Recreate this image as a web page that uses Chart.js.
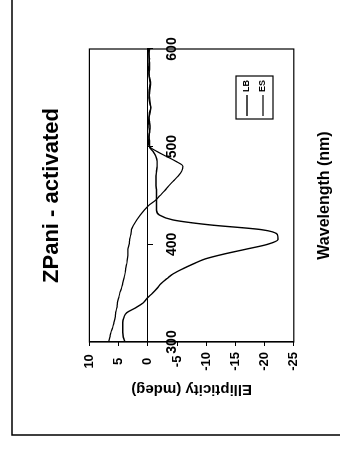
<!DOCTYPE html>
<html>
<head>
<meta charset="utf-8">
<script src="https://cdn.jsdelivr.net/npm/chart.js@4.4.1/dist/chart.umd.min.js"></script>
<style>
html, body { margin: 0; padding: 0; background: #fff; overflow: hidden; }
/* the scanned figure is turned a quarter turn, so draw upright and rotate */
#wrap { position: absolute; left: 0; top: 0; width: 449px; height: 340px;
        transform-origin: 0 0; transform: translate(0px, 449px) rotate(-90deg); }
</style>
</head>
<body>
<div id="wrap"><canvas id="myChart" width="449" height="340"></canvas></div>
<script>
// wavelength (nm)
const wavelengths = [300, 305, 310, 315, 320, 325, 330, 335, 340, 345,
    350, 355, 360, 365, 370, 375, 380, 385, 390, 395,
    400, 405, 410, 415, 420, 425, 430, 435, 440, 445,
    450, 455, 460, 465, 470, 475, 480, 485, 490, 495,
    500, 505, 510, 515, 520, 525, 530, 535, 540, 545,
    550, 555, 560, 565, 570, 575, 580, 585, 590, 595, 600];

// ellipticity (mdeg)
const lbValues = [3.9, 4.2, 4.3, 4.3, 4.3, 4.1, 3.6, 2.1, 0.8, 0.1,
    -0.8, -1.6, -2.3, -3.3, -4.4, -6.0, -7.8, -9.8, -13.0, -16.8,
    -20.5, -22.3, -22.2, -19.5, -10.5, -4.3, -2.0, -1.5, -1.5, -1.5,
    -1.5, -1.5, -1.4, -1.4, -1.4, -1.5, -1.6, -1.6, -1.4, -0.9,
    -0.3, -0.3, -0.2, -0.3, -0.4, -0.3, -0.2, -0.3, -0.5, -0.4,
    -0.3, -0.2, -0.3, -0.4, -0.3, -0.2, -0.3, -0.3, -0.2, -0.2, -0.3];

const esValues = [6.7, 6.5, 6.3, 6.0, 5.8, 5.6, 5.5, 5.3, 5.2, 5.0,
    4.8, 4.5, 4.3, 4.1, 3.9, 3.8, 3.6, 3.5, 3.4, 3.4,
    3.2, 3.1, 2.9, 2.8, 2.4, 1.9, 1.3, 0.6, -0.2, -1.3,
    -2.1, -2.9, -3.6, -4.4, -5.2, -5.8, -6.0, -4.8, -3.2, -1.6,
    -0.3, -0.1, -0.2, -0.3, -0.2, -0.1, -0.2, -0.4, -0.5, -0.3,
    -0.2, -0.3, -0.4, -0.5, -0.3, -0.2, -0.1, -0.2, -0.3, -0.2, -0.1];

const seriesNames = ['LB', 'ES'];
const yTicks = [10, 5, 0, -5, -10, -15, -20, -25];

Chart.defaults.font.family = 'Arial, "Liberation Sans", sans-serif';
Chart.defaults.color = '#000';

function points(vals) {
    return wavelengths.map((w, i) => ({ x: w, y: vals[i] }));
}

// outer frame of the scanned page
const framePlugin = {
    id: 'frame',
    beforeDraw(chart) {
        const ctx = chart.ctx;
        ctx.save();
        ctx.strokeStyle = '#000';
        ctx.lineWidth = 1.5;
        ctx.beginPath();
        ctx.moveTo(14, 340);
        ctx.lineTo(14, 12);
        ctx.lineTo(449, 12);
        ctx.stroke();
        ctx.restore();
    }
};

// box round the plot area + small legend inside it
const boxPlugin = {
    id: 'plotBox',
    afterDraw(chart) {
        const ctx = chart.ctx;
        const a = chart.chartArea;
        ctx.save();
        ctx.strokeStyle = '#000';
        ctx.lineWidth = 1.2;
        ctx.strokeRect(a.left, a.top, a.right - a.left, a.bottom - a.top);

        ctx.lineWidth = 1.2;
        ctx.strokeRect(330, 236, 43, 37);
        ctx.font = 'bold 9px Arial, "Liberation Sans", sans-serif';
        ctx.fillStyle = '#000';
        ctx.textBaseline = 'middle';
        chart.data.datasets.forEach((ds, i) => {
            const v = 247 + i * 16;
            ctx.lineWidth = ds.borderWidth;
            ctx.beginPath();
            ctx.moveTo(333, v);
            ctx.lineTo(354, v);
            ctx.stroke();
            ctx.fillText(ds.label, 357, v);
        });
        ctx.restore();
    }
};

new Chart(document.getElementById('myChart'), {
    type: 'line',
    data: {
        datasets: [
            {
                label: seriesNames[0],
                data: points(lbValues),
                borderColor: '#000',
                borderWidth: 1.4,
                pointRadius: 0,
                cubicInterpolationMode: 'monotone'
            },
            {
                label: seriesNames[1],
                data: points(esValues),
                borderColor: '#000',
                borderWidth: 1.2,
                pointRadius: 0,
                cubicInterpolationMode: 'monotone'
            }
        ]
    },
    options: {
        responsive: false,
        animation: false,
        layout: { padding: { left: 0, right: 49, top: 0, bottom: 0 } },
        plugins: {
            legend: { display: false },
            tooltip: { enabled: false },
            title: {
                display: true,
                text: 'ZPani - activated',
                fullSize: false,
                font: { size: 22, weight: 'bold' },
                padding: { top: 39, bottom: 24 }
            },
            subtitle: {
                display: true,
                position: 'bottom',
                text: 'Wavelength (nm)',
                fullSize: false,
                font: { size: 16, weight: 'bold' },
                padding: { top: 21, bottom: 6 }
            }
        },
        scales: {
            x: {
                type: 'linear',
                position: { y: 0 },
                min: 300,
                max: 600,
                ticks: {
                    stepSize: 100,
                    padding: 11,
                    font: { size: 14, weight: 'bold' }
                },
                grid: { drawOnChartArea: false, drawTicks: true, tickLength: 5, color: '#000' },
                border: { display: true, color: '#000', width: 1 }
            },
            y: {
                position: 'left',
                min: -25,
                max: 10,
                afterBuildTicks: s => { s.ticks = yTicks.map(v => ({ value: v })); },
                afterFit: s => { s.width = 107; },
                ticks: {
                    crossAlign: 'center',
                    padding: 6,
                    font: { size: 13, weight: 'bold' }
                },
                grid: { drawOnChartArea: false, drawTicks: true, tickLength: 4, color: '#000' },
                border: { display: true, color: '#000', width: 1 },
                title: {
                    display: true,
                    text: 'Ellipticity (mdeg)',
                    font: { size: 15, weight: 'bold' },
                    padding: { top: 51, bottom: 0 }
                }
            }
        }
    },
    plugins: [framePlugin, boxPlugin]
});
</script>
</body>
</html>
